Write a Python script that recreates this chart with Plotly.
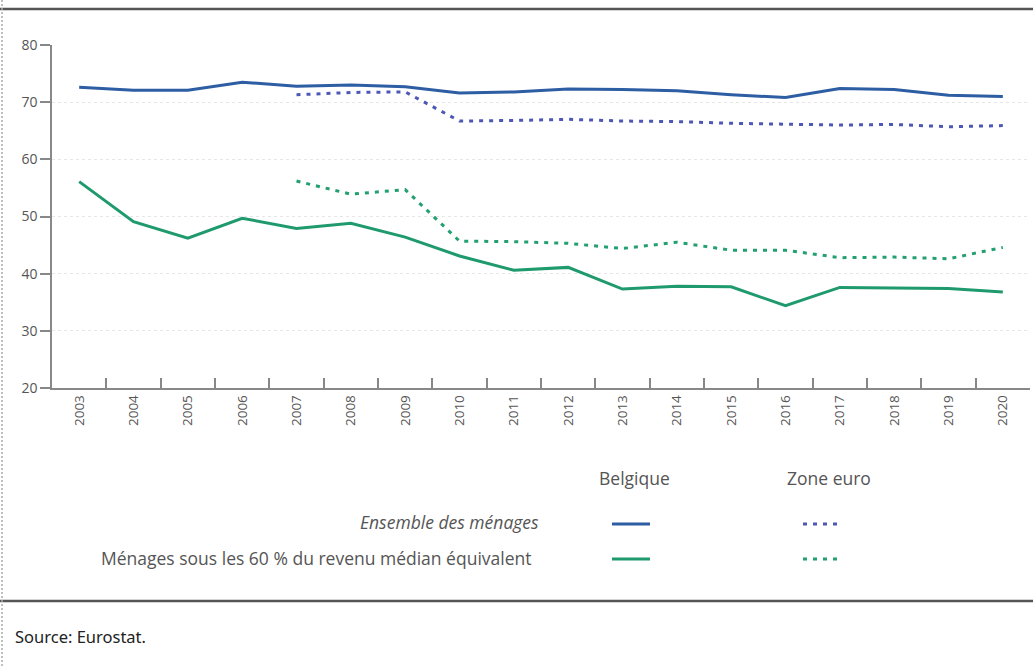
import plotly.graph_objects as go

years = [str(y) for y in range(2003, 2021)]
be_all = [72.6, 72.1, 72.1, 73.5, 72.8, 73.0, 72.7, 71.6, 71.8, 72.3, 72.2, 72.0, 71.3, 70.8, 72.4, 72.2, 71.2, 71.0]
ez_all = [None, None, None, None, 71.3, 71.7, 71.8, 66.7, 66.8, 67.0, 66.7, 66.6, 66.3, 66.2, 66.0, 66.1, 65.7, 65.9]
be_poor = [56.1, 49.1, 46.2, 49.7, 47.9, 48.8, 46.4, 43.1, 40.6, 41.1, 37.3, 37.8, 37.7, 34.4, 37.6, 37.5, 37.4, 36.8]
ez_poor = [None, None, None, None, 56.2, 53.9, 54.7, 45.7, 45.6, 45.3, 44.4, 45.5, 44.1, 44.1, 42.8, 42.9, 42.6, 44.6]
y_ticks = [20, 30, 40, 50, 60, 70, 80]

BLUE = "#2d5da3"
BLUE_DOT = "#4d57b6"
GREEN = "#1e9a6d"
GREEN_DOT = "#22a06f"
FONT = "Open Sans"
GRAY = "#555555"

fig = go.Figure()
fig.add_trace(go.Scatter(x=years, y=be_all, mode="lines", line=dict(color=BLUE, width=3)))
fig.add_trace(go.Scatter(x=years, y=ez_all, mode="lines", line=dict(color=BLUE_DOT, width=3, dash="4px,6px")))
fig.add_trace(go.Scatter(x=years, y=be_poor, mode="lines", line=dict(color=GREEN, width=3)))
fig.add_trace(go.Scatter(x=years, y=ez_poor, mode="lines", line=dict(color=GREEN_DOT, width=3, dash="4px,6px")))

fig.update_layout(
    width=1033, height=668,
    margin=dict(l=52, r=3, t=45, b=280),
    paper_bgcolor="white", plot_bgcolor="white",
    showlegend=False,
    font=dict(family=FONT, color=GRAY, size=13),
)
fig.update_xaxes(
    type="category", tickangle=-90, tickson="boundaries",
    ticks="inside", ticklen=10, tickcolor="#888888", tickwidth=1.5,
    showline=True, linecolor="#888888", linewidth=1.5,
    showgrid=False, tickfont=dict(size=13.5, color=GRAY),
    range=[-0.5, 17.5],
)
fig.update_yaxes(
    range=[20, 80], tickvals=y_ticks, ticks="outside", ticklen=10,
    tickcolor="#888888", tickwidth=1.5,
    showline=True, linecolor="#888888", linewidth=1.5,
    showgrid=True, gridcolor="#e6e6e6", griddash="dot", gridwidth=1,
    zeroline=False, tickfont=dict(size=14, color=GRAY),
)

ph = 343.0
pw = 978.0
def px_x(x):
    return (x - 52) / pw
def px_y(y):
    return (388 - y) / ph

shapes = [
    dict(type="line", xref="paper", yref="paper", x0=px_x(0), x1=px_x(1033), y0=px_y(9), y1=px_y(9),
         line=dict(color="#555555", width=2.5)),
    dict(type="line", xref="paper", yref="paper", x0=px_x(0), x1=px_x(1033), y0=px_y(601), y1=px_y(601),
         line=dict(color="#555555", width=2.5)),
    dict(type="line", xref="paper", yref="paper", x0=px_x(2), x1=px_x(2), y0=px_y(0), y1=px_y(668),
         line=dict(color="#aaaaaa", width=1.5, dash="2px,2px")),
    dict(type="line", xref="paper", yref="paper", x0=px_x(612), x1=px_x(650), y0=px_y(524), y1=px_y(524),
         line=dict(color=BLUE, width=3)),
    dict(type="line", xref="paper", yref="paper", x0=px_x(803), x1=px_x(840), y0=px_y(524), y1=px_y(524),
         line=dict(color=BLUE_DOT, width=3, dash="4px,6px")),
    dict(type="line", xref="paper", yref="paper", x0=px_x(612), x1=px_x(650), y0=px_y(559), y1=px_y(559),
         line=dict(color=GREEN, width=3)),
    dict(type="line", xref="paper", yref="paper", x0=px_x(803), x1=px_x(840), y0=px_y(559), y1=px_y(559),
         line=dict(color=GREEN_DOT, width=3, dash="4px,6px")),
]
fig.update_layout(shapes=shapes)

def ann(text, x, y, xanchor="left", size=17.5, italic=False, color=GRAY, family=FONT):
    return dict(text=text, xref="paper", yref="paper", x=px_x(x), y=px_y(y), xanchor=xanchor, yanchor="middle",
                showarrow=False, font=dict(family=family, size=size, color=color, style="italic" if italic else "normal"))

fig.update_layout(annotations=[
    ann("Belgique", 634, 478, xanchor="center"),
    ann("Zone euro", 829, 478, xanchor="center"),
    ann("Ensemble des ménages", 541, 522, xanchor="right", italic=True),
    ann("Ménages sous les 60 % du revenu médian équivalent", 534, 558, xanchor="right"),
    ann("Source: Eurostat.", 13, 636, xanchor="left", size=16.5, color="#222222", family="Noto Sans"),
])

fig.write_html("out.html", config={"displayModeBar": False})
with open("out.html", "r", encoding="utf-8") as f:
    html = f.read()
html = html.replace("<body>", '<body style="margin:0;padding:0;">', 1)
with open("out.html", "w", encoding="utf-8") as f:
    f.write(html)
